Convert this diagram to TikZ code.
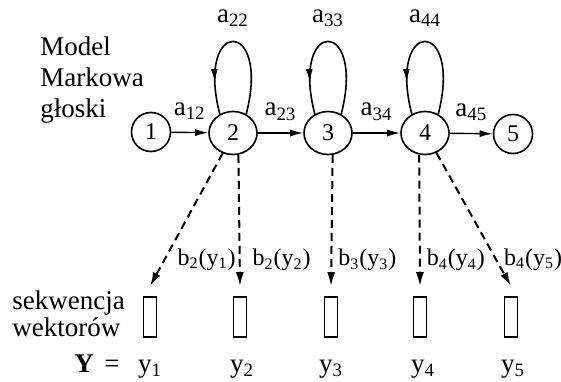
\documentclass[tikz,border=0pt]{standalone}
\usepackage{fontspec}
\setmainfont{Liberation Serif}
\usetikzlibrary{arrows.meta, shapes.geometric, decorations.markings}

\begin{document}
\begin{tikzpicture}[
      x=0.5pt, y=0.5pt,
      font=\fontsize{13.5}{15.5}\selectfont,
      state/.style={draw, ellipse, line width=0.8pt, minimum width=24pt, minimum height=21.5pt, inner sep=0pt, font=\fontsize{12}{14}\selectfont},
      endstate/.style={state, minimum width=19.5pt, minimum height=19.5pt},
      vec/.style={draw, rectangle, line width=0.8pt, minimum width=6.5pt, minimum height=20pt, inner sep=0pt},
      trans/.style={-{Latex[length=6.5pt,width=3.5pt]}, line width=0.7pt},
      emit/.style={-{Latex[length=7pt,width=4pt]}, line width=1pt, dash pattern=on 4pt off 2.5pt},
      selfloop/.style={line width=0.8pt, postaction={decorate},
        decoration={markings, mark=at position 0.8 with {\arrow{Latex[length=6.5pt,width=3.5pt]}}}},
      lbl/.style={inner sep=1pt},
      blbl/.style={inner sep=1pt, anchor=west, pos=0.8, font=\fontsize{12}{14}\selectfont}
    ]
      \useasboundingbox (0,0) rectangle (561,381);

      % Markov model of the phone
      \node (model) [anchor=west, align=left, inner sep=0pt] at (40,301) {Model\\Markowa\\głoski};

      \node (s1) [endstate] at (151,249) {1};
      \node (s2) [state] at (233,248) {2};
      \node (s3) [state] at (328,248) {3};
      \node (s4) [state] at (425,248) {4};
      \node (s5) [endstate] at (513,247) {5};

      % Observation vectors
      \node (seq) [anchor=west, align=left, inner sep=0pt, font=\fontsize{13.5}{13.5}\selectfont] at (12,67) {sekwencja\\wektorów};

      \node (v1) [vec] at (150,64) {};
      \node (v2) [vec] at (240,64) {};
      \node (v3) [vec] at (331,64) {};
      \node (v4) [vec] at (420,64) {};
      \node (v5) [vec] at (511,64) {};

      \node (ybig) [anchor=base] at (84,9) {\textbf{Y}};
      \node (eq) [anchor=base] at (112,9) {=};
      \node (y1) [anchor=base] at (150,9) {y\textsubscript{1}};
      \node (y2) [anchor=base] at (242,9) {y\textsubscript{2}};
      \node (y3) [anchor=base] at (331,9) {y\textsubscript{3}};
      \node (y4) [anchor=base] at (423,9) {y\textsubscript{4}};
      \node (y5) [anchor=base] at (513,9) {y\textsubscript{5}};

      % Transitions
      \draw[trans] (s1) -- (s2) node[lbl, midway, above=5pt] {a\textsubscript{12}};
      \draw[trans] (s2) -- (s3) node[lbl, midway, above=5pt] {a\textsubscript{23}};
      \draw[trans] (s3) -- (s4) node[lbl, midway, above=5pt] {a\textsubscript{34}};
      \draw[trans] (s4) -- (s5) node[lbl, midway, above=5pt] {a\textsubscript{45}};

      \draw[selfloop] (s2.55) .. controls +(25,97) and +(-25,97) .. (s2.125)
        node[lbl, pos=0.5, above=6pt] {a\textsubscript{22}};
      \draw[selfloop] (s3.55) .. controls +(25,97) and +(-25,97) .. (s3.125)
        node[lbl, pos=0.5, above=6pt] {a\textsubscript{33}};
      \draw[selfloop] (s4.55) .. controls +(25,97) and +(-25,97) .. (s4.125)
        node[lbl, pos=0.5, above=6pt] {a\textsubscript{44}};

      % Emissions
      \draw[emit] (s2.243) -- ([yshift=5pt]v1.north)
        node[blbl, xshift=5pt] {b\textsubscript{2}(y\textsubscript{1})};
      \draw[emit] (s2.284) -- ([yshift=5pt]v2.north)
        node[blbl, xshift=5pt] {b\textsubscript{2}(y\textsubscript{2})};
      \draw[emit] (s3.282) -- ([yshift=5pt]v3.north)
        node[blbl, xshift=2pt] {b\textsubscript{3}(y\textsubscript{3})};
      \draw[emit] (s4.255) -- ([yshift=5pt]v4.north)
        node[blbl, xshift=2pt] {b\textsubscript{4}(y\textsubscript{4})};
      \draw[emit] (s4.300) -- ([yshift=5pt]v5.north)
        node[blbl, xshift=2.5pt] {b\textsubscript{4}(y\textsubscript{5})};
    \end{tikzpicture}
\end{document}
